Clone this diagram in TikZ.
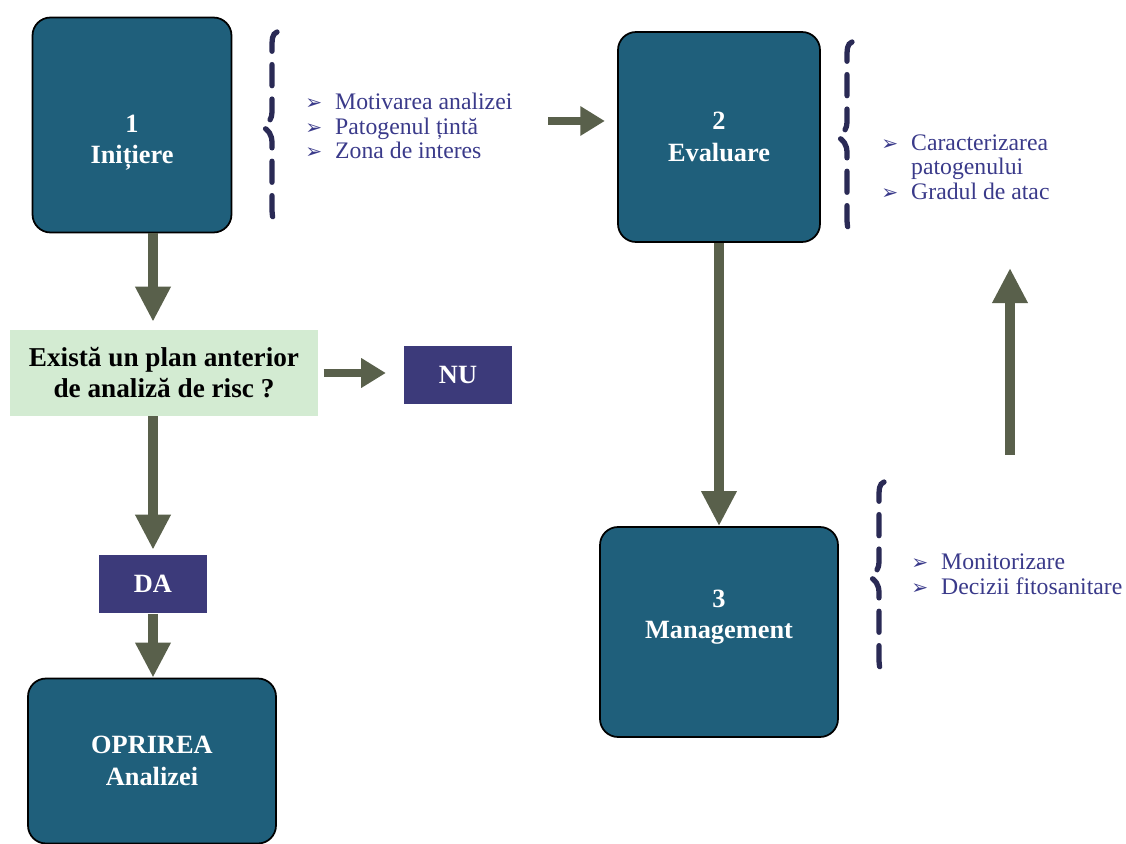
\documentclass[tikz,border=0pt]{standalone}
\usepackage{fontspec}
\setmainfont{Liberation Serif}
\newfontfamily\symfont{DejaVu Sans}
\usepackage{xcolor}
\usepackage{tikz}
\usetikzlibrary{arrows.meta}
\definecolor{teal}{HTML}{1F5F7B}
\definecolor{navy}{HTML}{3C3A7A}
\definecolor{olive}{HTML}{59604B}
\definecolor{listc}{HTML}{3A3A8A}
\definecolor{bracec}{HTML}{2A2A55}
\definecolor{qbg}{HTML}{D3EBD2}
\newcommand{\bl}{\makebox[17pt][l]{\symfont\fontsize{11.5}{11.5}\selectfont ➢}}
\newcommand{\nobl}{\hspace*{17pt}}
\tikzset{
  stage/.style={draw=black, line width=1pt, fill=teal, rounded corners=0.36cm, text=white,
    align=center, font=\bfseries\fontsize{15}{18}\selectfont},
  answer/.style={fill=navy, text=white, minimum width=2.17cm, minimum height=1.18cm,
    font=\bfseries\fontsize{15}{15}\selectfont},
  question/.style={fill=qbg, align=center, minimum width=6.16cm, minimum height=1.72cm,
    font=\bfseries\fontsize{15.5}{17.6}\selectfont},
  items/.style={anchor=west, inner sep=0pt, align=left, text=listc,
    font=\fontsize{13.5}{14}\selectfont},
  flow/.style={draw=olive, line width=5.5pt, -{Triangle[length=20pt,width=19pt]}},
  hflow/.style={draw=olive, line width=4.5pt, -{Triangle[length=14pt,width=16pt]}},
  brace/.style={draw=bracec, line width=3pt, line cap=round, dash pattern=on 12pt off 7.6pt},
  pics/curly/.style={code={
    \draw[brace] (14,-95) .. controls (9,-93) and (9,-88) .. (9,-78) -- (9,-16)
      .. controls (9,-7) and (5,-3) .. (0,0) .. controls (5,3) and (9,7) .. (9,16)
      -- (9,78) .. controls (9,88) and (9,93) .. (14,95);
  }},
}
\begin{document}
\begin{tikzpicture}[x=0.02cm,y=-0.02cm]
  \useasboundingbox (0,0) rectangle (1126,844);

  % main stages
  \node[stage, minimum width=3.98cm, minimum height=4.3cm, text height=48pt] (ini) at (132,125) {1\\Inițiere};
  \node[stage, minimum width=4.04cm, minimum height=4.2cm] (ev) at (719,137) {2\\Evaluare};
  \node[stage, minimum width=4.76cm, minimum height=4.2cm, text depth=20pt] (mg) at (719,632) {3\\Management};
  \node[stage, minimum width=4.96cm, minimum height=3.3cm] (stop) at (152,761) {OPRIREA\\Analizei};

  % decision
  \node[question] (q) at (164,373) {Există un plan anterior\\de analiză de risc ?};
  \node[answer] (nu) at (458,375) {NU};
  \node[answer] (da) at (153,584) {DA};

  % lists
  \pic at (263,127) {curly};
  \node[items] (l1) at (305,126) {\bl Motivarea analizei\\\bl Patogenul țintă\\\bl Zona de interes};
  \pic at (838,137) {curly};
  \node[items] (l2) at (881,167) {\bl Caracterizarea\\\nobl patogenului\\\bl Gradul de atac};
  \pic at (870,577) {curly};
  \node[items] (l3) at (911,574) {\bl Monitorizare\\\bl Decizii fitosanitare};

  % arrows
  \coordinate (a12) at (548,121);
  \coordinate (upA) at (1010,455);
  \coordinate (upB) at (1010,268);
  \draw[hflow] (a12) -- (a12 -| ev.west) [shorten >=7pt];
  \draw[flow, shorten >=4.5pt] (ini.south -| da.north) -- (q.north -| da.north);
  \draw[hflow, shorten <=3pt, shorten >=10pt] (q.east) -- (q.east -| nu.west);
  \draw[flow, shorten >=2.5pt] (q.south -| da.north) -- (da.north);
  \draw[flow] (da.south) -- (stop.north -| da.south);
  \draw[flow] (ev.south) -- (mg.north -| ev.south);
  \draw[flow] (upA) -- (upB);
\end{tikzpicture}
\end{document}
